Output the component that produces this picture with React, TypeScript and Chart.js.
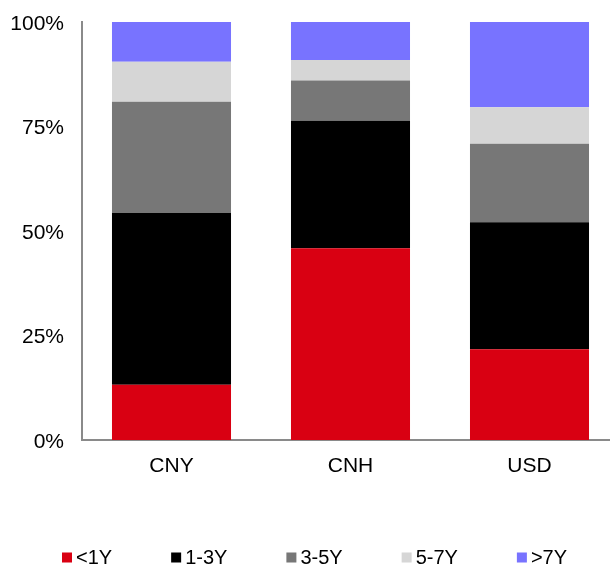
import { useEffect, useRef } from "react";
import { Chart, registerables } from "chart.js";

Chart.register(...registerables);

const categories = ["CNY", "CNH", "USD"];
const seriesNames = ["<1Y", "1-3Y", "3-5Y", "5-7Y", ">7Y"];
const lessThan1Y = [13.2, 45.9, 21.7];
const from1To3Y = [41.1, 30.5, 30.4];
const from3To5Y = [26.6, 9.6, 18.8];
const from5To7Y = [9.6, 4.9, 8.7];
const moreThan7Y = [9.5, 9.1, 20.4];
const yTickValues = [0, 25, 50, 75, 100];

const seriesColors = ["#D90012", "#000000", "#777777", "#D6D6D6", "#7873FF"];
const FONT = "'Liberation Sans', Arial, Helvetica, sans-serif";

const legendPlugin = {
  id: "bottomLegend",
  afterDraw(chart: any) {
    const ctx = chart.ctx as CanvasRenderingContext2D;
    const startX = 62;
    const midY = 557.5;
    const box = 10;
    const textOffset = 14;
    const gap = 59;
    ctx.save();
    ctx.font = `20px ${FONT}`;
    ctx.textAlign = "left";
    ctx.textBaseline = "middle";
    let x = startX;
    chart.data.datasets.forEach((ds: any) => {
      ctx.fillStyle = ds.backgroundColor;
      ctx.fillRect(x, midY - box / 2, box, box);
      ctx.fillStyle = "#000";
      ctx.fillText(ds.label, x + textOffset, midY + 1);
      x += textOffset + ctx.measureText(ds.label).width + gap;
    });
    ctx.restore();
  },
};

export default function App() {
  const ref = useRef<HTMLCanvasElement | null>(null);

  useEffect(() => {
    if (!ref.current) return;
    const values = [lessThan1Y, from1To3Y, from3To5Y, from5To7Y, moreThan7Y];
    const chart = new Chart(ref.current, {
      type: "bar",
      data: {
        labels: categories,
        datasets: seriesNames.map((name, i) => ({
          label: name,
          data: values[i],
          backgroundColor: seriesColors[i],
          borderWidth: 0,
          barPercentage: 0.665,
          categoryPercentage: 1,
        })),
      },
      plugins: [legendPlugin],
      options: {
        responsive: false,
        animation: false,
        devicePixelRatio: 1,
        layout: { padding: { top: 22, left: 0, right: 0, bottom: 72 } },
        font: { family: FONT, size: 21 },
        color: "#000",
        plugins: {
          tooltip: { enabled: false },
          legend: { display: false },
        },
        scales: {
          x: {
            stacked: true,
            grid: { display: false, drawTicks: false },
            border: { display: true, color: "#8a8a8a", width: 2 },
            ticks: {
              padding: 14,
              color: "#000",
              font: { family: FONT, size: 21 },
            },
            afterFit: (s: any) => {
              s.height = 54;
            },
          },
          y: {
            stacked: true,
            min: 0,
            max: 100,
            grid: { display: false, drawTicks: false },
            border: { display: true, color: "#8a8a8a", width: 2 },
            afterBuildTicks: (s: any) => {
              s.ticks = yTickValues.map((v) => ({ value: v }));
            },
            ticks: {
              padding: 18,
              labelOffset: 2,
              color: "#000",
              font: { family: FONT, size: 21 },
              callback: (v: any) => `${v}%`,
            },
            afterFit: (s: any) => {
              s.width = 82;
              s.paddingTop = 0;
              s.paddingBottom = 0;
            },
          },
        },
      },
    });
    return () => chart.destroy();
  }, []);

  return (
    <div
      style={{
        position: "fixed",
        left: 0,
        top: 0,
        width: 610,
        height: 566,
        overflow: "hidden",
      }}
    >
      <canvas ref={ref} width={619} height={566} style={{ display: "block" }} />
    </div>
  );
}
